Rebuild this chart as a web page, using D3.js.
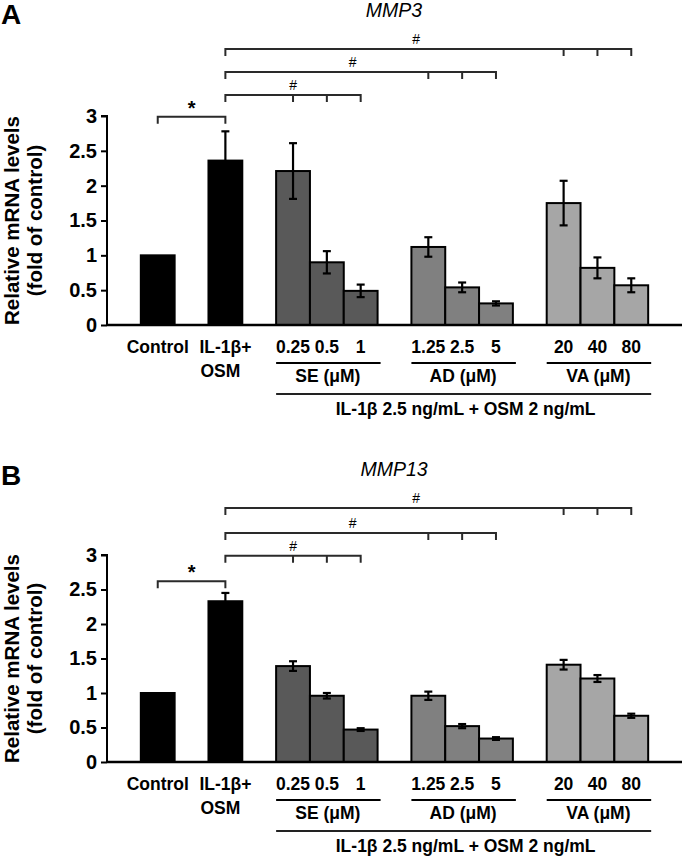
<!DOCTYPE html>
<html>
<head>
<meta charset="utf-8">
<script src="https://cdn.jsdelivr.net/npm/d3@7"></script>
<style>
  html, body { margin: 0; padding: 0; background: #fff; }
  svg { display: block; font-family: "Liberation Sans", Arial, sans-serif; }
</style>
</head>
<body>
<svg id="chart" width="685" height="860"></svg>
<script>
// ---------------- data ----------------
const slots = ["g0", "Control", "g1", "IL", "g2", "SE1", "SE2", "SE3", "g3", "AD1", "AD2", "AD3", "g4", "VA1", "VA2", "VA3", "g5"];
const barKeys = ["Control", "IL", "SE1", "SE2", "SE3", "AD1", "AD2", "AD3", "VA1", "VA2", "VA3"];
const barGroup = ["ctrl", "ctrl", "SE", "SE", "SE", "AD", "AD", "AD", "VA", "VA", "VA"];
const mmp3Values  = [1.00, 2.36, 2.21, 0.90, 0.49, 1.12, 0.54, 0.31, 1.75, 0.82, 0.57];
const mmp3Errors  = [0.00, 0.42, 0.40, 0.16, 0.09, 0.14, 0.07, 0.03, 0.32, 0.15, 0.10];
const mmp13Values = [1.00, 2.33, 1.39, 0.96, 0.47, 0.96, 0.52, 0.34, 1.41, 1.21, 0.67];
const mmp13Errors = [0.00, 0.12, 0.07, 0.04, 0.02, 0.06, 0.03, 0.02, 0.07, 0.05, 0.03];
const yTicks = [0, 0.5, 1, 1.5, 2, 2.5, 3];
const doseKeys = ["SE1", "SE2", "SE3", "AD1", "AD2", "AD3", "VA1", "VA2", "VA3"];
const doseLabels = ["0.25", "0.5", "1", "1.25", "2.5", "5", "20", "40", "80"];
const groupNames = ["SE", "AD", "VA"];
const groupLabels = ["SE (μM)", "AD (μM)", "VA (μM)"];
const stimulusLabel = "IL-1β 2.5 ng/mL + OSM 2 ng/mL";
const groupFill = { ctrl: "#000000", SE: "#595959", AD: "#808080", VA: "#a6a6a6" };
// significance brackets: from, to list, level (data units), symbol, label fraction
const mmp3Brackets = [
  { from: "Control", to: ["IL"], level: 2.99, sym: "*", frac: 0.5 },
  { from: "IL", to: ["SE1", "SE2", "SE3"], level: 3.30, sym: "#", frac: 0.5 },
  { from: "IL", to: ["AD1", "AD2", "AD3"], level: 3.63, sym: "#", frac: 0.47 },
  { from: "IL", to: ["VA1", "VA2", "VA3"], level: 3.96, sym: "#", frac: 0.47 }
];
const mmp13Brackets = [
  { from: "Control", to: ["IL"], level: 2.62, sym: "*", frac: 0.5 },
  { from: "IL", to: ["SE1", "SE2", "SE3"], level: 2.99, sym: "#", frac: 0.5 },
  { from: "IL", to: ["AD1", "AD2", "AD3"], level: 3.32, sym: "#", frac: 0.47 },
  { from: "IL", to: ["VA1", "VA2", "VA3"], level: 3.68, sym: "#", frac: 0.47 }
];

const panels = [
  { letter: "A", title: "MMP3", values: mmp3Values, errors: mmp3Errors, brackets: mmp3Brackets,
    y0: 325, y1: 116, letterY: 24, titleY: 17 },
  { letter: "B", title: "MMP13", values: mmp13Values, errors: mmp13Errors, brackets: mmp13Brackets,
    y0: 762, y1: 555, letterY: 485, titleY: 476 }
];

// ---------------- drawing ----------------
const svg = d3.select("#chart");
const axisX = 107, rightX = 682;
const x = d3.scaleBand().domain(slots).range([axisX, rightX]).padding(0);
const cx = k => x(k) + x.bandwidth() / 2;

panels.forEach(p => {
  const g = svg.append("g");
  const y = d3.scaleLinear().domain([0, 3]).range([p.y0, p.y1]);

  // panel letter & title
  g.append("text").attr("x", 1).attr("y", p.letterY).attr("font-size", 28).attr("font-weight", "bold").text(p.letter);
  g.append("text").attr("x", 394).attr("y", p.titleY).attr("text-anchor", "middle")
    .attr("font-size", 19.5).attr("font-style", "italic").text(p.title);

  // bars
  const data = barKeys.map((k, i) => ({ k, v: p.values[i], e: p.errors[i], grp: barGroup[i] }));
  g.selectAll("rect.bar").data(data).join("rect")
    .attr("x", d => x(d.k)).attr("width", x.bandwidth())
    .attr("y", d => y(d.v)).attr("height", d => y(0) - y(d.v))
    .attr("fill", d => groupFill[d.grp]).attr("stroke", "#000").attr("stroke-width", 2);

  // error bars
  const eb = data.filter(d => d.e > 0);
  const ebG = g.append("g").attr("stroke", "#000").attr("stroke-width", 2.2);
  ebG.selectAll("line.v").data(eb).join("line")
    .attr("x1", d => cx(d.k)).attr("x2", d => cx(d.k))
    .attr("y1", d => y(d.v - d.e)).attr("y2", d => y(d.v + d.e));
  ebG.selectAll("line.t").data(eb).join("line")
    .attr("x1", d => cx(d.k) - 4).attr("x2", d => cx(d.k) + 4)
    .attr("y1", d => y(d.v + d.e)).attr("y2", d => y(d.v + d.e));
  ebG.selectAll("line.b").data(eb).join("line")
    .attr("x1", d => cx(d.k) - 4).attr("x2", d => cx(d.k) + 4)
    .attr("y1", d => y(d.v - d.e)).attr("y2", d => y(d.v - d.e));

  // y axis
  const yAxis = d3.axisLeft(y).tickValues(yTicks).tickFormat(d3.format("~g")).tickSize(6).tickPadding(4);
  const ya = g.append("g").attr("transform", `translate(${axisX},0)`).call(yAxis);
  ya.select(".domain").attr("stroke", "#000").attr("stroke-width", 2).attr("d", `M-6,${y(3)}H0V${y(0)}`);
  ya.selectAll(".tick line").attr("stroke", "#000").attr("stroke-width", 2);
  ya.selectAll(".tick text").attr("font-size", 20).attr("font-weight", "bold")
    .attr("font-family", "Liberation Sans, Arial, sans-serif").attr("fill", "#000");

  // x axis baseline
  g.append("line").attr("x1", axisX).attr("x2", rightX).attr("y1", y(0)).attr("y2", y(0))
    .attr("stroke", "#000").attr("stroke-width", 2.5);

  // y axis title
  const ymid = (y(0) + y(3)) / 2;
  const yt = g.append("text").attr("transform", `translate(19,${ymid}) rotate(-90)`)
    .attr("text-anchor", "middle").attr("font-size", 20.5).attr("font-weight", "bold");
  yt.append("tspan").attr("x", 0).attr("dy", 0).text("Relative mRNA levels");
  yt.append("tspan").attr("x", 0).attr("dy", 23).text("(fold of control)");

  // x labels
  const base = y(0);
  const lab = g.append("g").attr("font-size", 17.5).attr("font-weight", "bold").attr("text-anchor", "middle");
  lab.append("text").attr("x", cx("Control")).attr("y", base + 28).text("Control");
  lab.append("text").attr("x", cx("IL") - 26).attr("y", base + 28).attr("text-anchor", "start").text("IL-1β+");
  lab.append("text").attr("x", cx("IL") - 25).attr("y", base + 52).attr("text-anchor", "start").text("OSM");
  lab.selectAll("text.dose").data(doseKeys).join("text").attr("class", "dose")
    .attr("x", k => cx(k)).attr("y", base + 28).text((k, i) => doseLabels[i]);

  groupNames.forEach((gn, i) => {
    const first = x(gn + "1"), last = x(gn + "3") + x.bandwidth();
    g.append("line").attr("x1", first).attr("x2", last + 3).attr("y1", base + 38).attr("y2", base + 38)
      .attr("stroke", "#000").attr("stroke-width", 2);
    lab.append("text").attr("x", (first + last) / 2 + 1).attr("y", base + 57).text(groupLabels[i]);
  });
  const sFirst = x("SE1"), sLast = x("VA3") + x.bandwidth() + 3;
  g.append("line").attr("x1", sFirst).attr("x2", sLast).attr("y1", base + 69).attr("y2", base + 69)
    .attr("stroke", "#222").attr("stroke-width", 2);
  lab.append("text").attr("x", (sFirst + sLast) / 2 + 2).attr("y", base + 90).text(stimulusLabel);

  // significance brackets
  p.brackets.forEach(b => {
    const by = y(b.level);
    const x0 = cx(b.from);
    const ends = b.to.map(cx);
    const x1 = ends[ends.length - 1];
    const tick = 7;
    let d = `M${x0},${by + tick}V${by}H${x1}V${by + tick}`;
    ends.slice(0, -1).forEach(ex => { d += `M${ex},${by}V${by + tick}`; });
    g.append("path").attr("d", d).attr("fill", "none").attr("stroke", "#2a2a2a").attr("stroke-width", 2);
    const lx = x0 + (x1 - x0) * b.frac;
    if (b.sym === "*") {
      g.append("text").attr("x", lx).attr("y", by - 2).attr("text-anchor", "middle")
        .attr("font-size", 20).attr("font-weight", "bold").text("*");
    } else {
      g.append("text").attr("x", lx).attr("y", by - 5).attr("text-anchor", "middle")
        .attr("font-size", 14).text("#");
    }
  });
});
</script>
</body>
</html>
